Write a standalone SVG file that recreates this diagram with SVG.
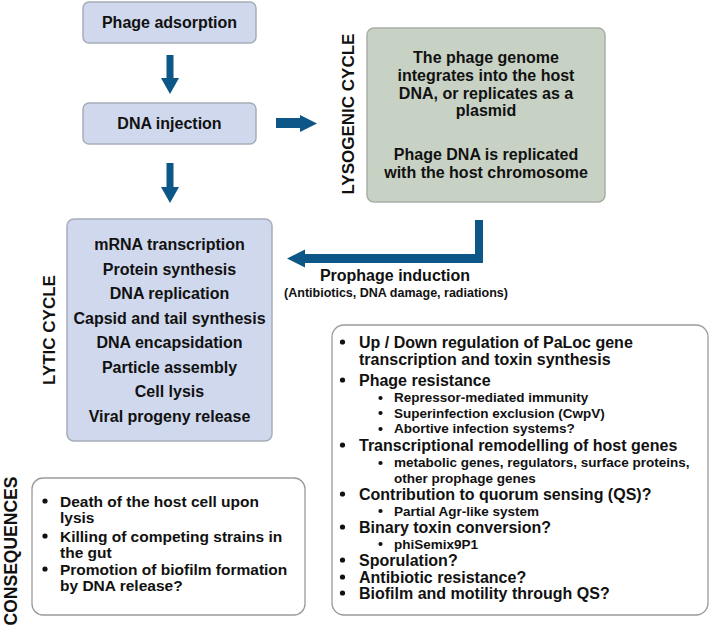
<svg xmlns="http://www.w3.org/2000/svg" width="711" height="628" viewBox="0 0 711 628">
<style>
text{font-family:"Liberation Sans",Arial,Helvetica,sans-serif;font-weight:bold;fill:#111;}
.c{text-anchor:middle;font-size:16px;}
.m{font-size:16px;}
.k{font-size:15.5px;}
.s{font-size:13.5px;}
.v{font-size:17px;text-anchor:middle;}
.blue{fill:#cfd8ec;stroke:#a7adb8;stroke-width:1.5;}
.green{fill:#c8d2c4;stroke:#a9ada6;stroke-width:1.5;}
.white{fill:#fff;stroke:#9a9a9a;stroke-width:1.3;}
.arr{fill:#0d5688;}
.dot{fill:#111;}
</style>
<rect width="711" height="628" fill="#fff"/>
<g id="connectors">
<polygon class="arr" points="166.5,55 173.5,55 173.5,78 179,78 170,94 161,78 166.5,78"/>
<polygon class="arr" points="166.5,163 173.5,163 173.5,187 179,187 170,203 161,187 166.5,187"/>
<polygon class="arr" points="276,118 300,118 300,115 317,123.5 300,132 300,128 276,128"/>
<polygon class="arr" points="475,220 483,220 483,263 305,263 305,267.5 287,258.5 305,249.5 305,254 475,254"/>
</g>
<g id="phage-adsorption">
<rect class="blue" x="83" y="2" width="173" height="41" rx="6"/>
<text class="c" x="169.5" y="28">Phage adsorption</text>
</g>
<g id="dna-injection">
<rect class="blue" x="83" y="103" width="173" height="41" rx="6"/>
<text class="c" x="169.5" y="129">DNA injection</text>
</g>
<g id="lysogenic-label">
<text class="v" transform="translate(354,114) rotate(-90)">LYSOGENIC CYCLE</text>
</g>
<g id="lysogenic-cycle">
<rect class="green" x="367" y="28" width="238" height="174" rx="7"/>
<text class="c" x="486" y="63">The phage genome</text>
<text class="c" x="486" y="81">integrates into the host</text>
<text class="c" x="486" y="98.5">DNA, or replicates as a</text>
<text class="c" x="486" y="116">plasmid</text>
<text class="c" x="486" y="160">Phage DNA is replicated</text>
<text class="c" x="486" y="177.5">with the host chromosome</text>
</g>
<g id="lytic-label">
<text class="v" transform="translate(55,330) rotate(-90)">LYTIC CYCLE</text>
</g>
<g id="lytic-cycle">
<rect class="blue" x="67" y="219" width="205" height="222" rx="7"/>
<text class="c" x="169.5" y="250">mRNA transcription</text>
<text class="c" x="169.5" y="274.5">Protein synthesis</text>
<text class="c" x="169.5" y="299">DNA replication</text>
<text class="c" x="169.5" y="323.5">Capsid and tail synthesis</text>
<text class="c" x="169.5" y="348">DNA encapsidation</text>
<text class="c" x="169.5" y="372.5">Particle assembly</text>
<text class="c" x="169.5" y="397">Cell lysis</text>
<text class="c" x="169.5" y="421.5">Viral progeny release</text>
</g>
<g id="prophage-induction">
<text class="c" x="395" y="281">Prophage induction</text>
<text x="396" y="297" style="font-size:12.5px;text-anchor:middle">(Antibiotics, DNA damage, radiations)</text>
</g>
<g id="lysogeny-consequences">
<rect class="white" x="332" y="325" width="376" height="290" rx="12"/>
<circle class="dot" cx="342.5" cy="342" r="2.6"/>
<text class="m" x="359" y="348">Up / Down regulation of PaLoc gene</text>
<text class="m" x="359" y="365">transcription and toxin synthesis</text>
<circle class="dot" cx="342.5" cy="380" r="2.6"/>
<text class="m" x="359" y="386">Phage resistance</text>
<circle class="dot" cx="380.5" cy="398" r="2.1"/>
<text class="s" x="394" y="402">Repressor-mediated immunity</text>
<circle class="dot" cx="380.5" cy="413" r="2.1"/>
<text class="s" x="394" y="417.5">Superinfection exclusion (CwpV)</text>
<circle class="dot" cx="380.5" cy="429" r="2.1"/>
<text class="s" x="394" y="433">Abortive infection systems?</text>
<circle class="dot" cx="342.5" cy="445" r="2.6"/>
<text class="m" x="359" y="451">Transcriptional remodelling of host genes</text>
<circle class="dot" cx="380.5" cy="463" r="2.1"/>
<text class="s" x="394" y="467">metabolic genes, regulators, surface proteins,</text>
<text class="s" x="394" y="482.5">other prophage genes</text>
<circle class="dot" cx="342.5" cy="494" r="2.6"/>
<text class="m" x="359" y="500">Contribution to quorum sensing (QS)?</text>
<circle class="dot" cx="380.5" cy="511" r="2.1"/>
<text class="s" x="394" y="515.5">Partial Agr-like system</text>
<circle class="dot" cx="342.5" cy="527" r="2.6"/>
<text class="m" x="359" y="533">Binary toxin conversion?</text>
<circle class="dot" cx="380.5" cy="544" r="2.1"/>
<text class="s" x="394" y="548.5">phiSemix9P1</text>
<circle class="dot" cx="342.5" cy="560" r="2.6"/>
<text class="m" x="359" y="566">Sporulation?</text>
<circle class="dot" cx="342.5" cy="577" r="2.6"/>
<text class="m" x="359" y="583">Antibiotic resistance?</text>
<circle class="dot" cx="342.5" cy="593" r="2.6"/>
<text class="m" x="359" y="599">Biofilm and motility through QS?</text>
</g>
<g id="consequences-label">
<text class="v" transform="translate(17,551) rotate(-90)" style="font-size:17.5px">CONSEQUENCES</text>
</g>
<g id="lytic-consequences">
<rect class="white" x="32" y="478" width="273" height="137" rx="11"/>
<circle class="dot" cx="45" cy="501" r="2.6"/>
<text class="k" x="60" y="506.5">Death of the host cell upon</text>
<text class="k" x="60" y="523">lysis</text>
<circle class="dot" cx="45" cy="536" r="2.6"/>
<text class="k" x="60" y="541.5">Killing of competing strains in</text>
<text class="k" x="60" y="558">the gut</text>
<circle class="dot" cx="45" cy="569" r="2.6"/>
<text class="k" x="60" y="574.5">Promotion of biofilm formation</text>
<text class="k" x="60" y="591">by DNA release?</text>
</g>
</svg>
